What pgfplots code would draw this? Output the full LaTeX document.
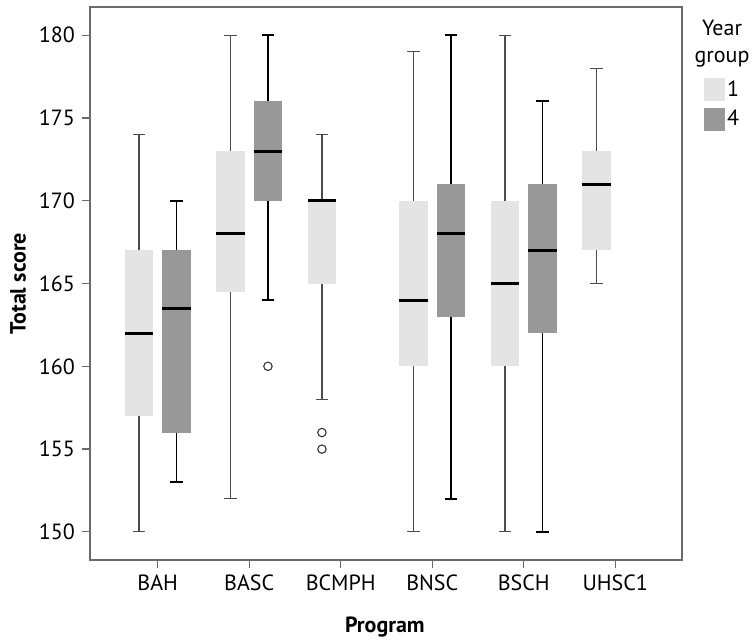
\documentclass[border=0pt]{standalone}
\usepackage{fontspec}
\setmainfont{PT Sans}
\usepackage{pgfplots}
\pgfplotsset{compat=1.18}

\definecolor{yearone}{HTML}{E4E4E4}
\definecolor{yearfour}{HTML}{989898}
\definecolor{frame}{HTML}{6A6A6A}

\pgfplotsset{
  whiskone/.style={draw=black!70, line width=0.6pt, forget plot},
  whiskfour/.style={draw=black, line width=0.9pt, forget plot},
  outlier/.style={only marks, mark=o, mark size=2.1pt,
    mark options={draw=black!80, line width=0.55pt}, forget plot},
}

% box: centre, lower whisker, lower quartile, median, upper quartile, upper whisker, fill, whisker style
\newcommand{\ybox}[8]{%
  \pgfmathsetmacro{\bl}{#1-0.155}\pgfmathsetmacro{\br}{#1+0.155}%
  \pgfmathsetmacro{\cl}{#1-0.0675}\pgfmathsetmacro{\cright}{#1+0.0675}%
  \addplot[fill=#7, draw=none, forget plot]
    coordinates {(\bl,#3) (\br,#3) (\br,#5) (\bl,#5)} -- cycle;
  \addplot[#8] coordinates {(#1,#5) (#1,#6)};
  \addplot[#8] coordinates {(\cl,#6) (\cright,#6)};
  \addplot[#8] coordinates {(#1,#3) (#1,#2)};
  \addplot[#8] coordinates {(\cl,#2) (\cright,#2)};
  \addplot[draw=black, line width=1.5pt, forget plot]
    coordinates {(\bl,#4) (\br,#4)};
}

\begin{document}
\begin{tikzpicture}
\begin{axis}[
  scale only axis, width=296pt, height=276.5pt,
  xmin=-0.74, xmax=5.73, ymin=148.3, ymax=181.7,
  clip=false,
  xtick={0,1,2,3,4,5},
  xticklabels={BAH,BASC,BCMPH,BNSC,BSCH,UHSC1},
  ytick={150,155,160,165,170,175,180},
  tick align=outside, major tick length=4pt,
  xtick pos=bottom, ytick pos=left,
  axis line style={frame, line width=0.6pt},
  tick style={frame, line width=0.6pt},
  tick label style={font=\fontsize{11}{13}\selectfont},
  /pgf/number format/assume math mode=true,
  xlabel={\textbf{Program}}, ylabel={\textbf{Total score}},
  label style={font=\fontsize{11}{13}\selectfont},
  xlabel style={at={(axis description cs:0.498,-0.121)}, anchor=center},
  ylabel style={at={(axis description cs:-0.1216,0.5)}, anchor=center},
  legend style={at={(axis description cs:1.037,0.8716)}, anchor=north west,
    draw=none, fill=none, inner sep=0pt, row sep=3.5pt,
    font=\fontsize{11}{13}\selectfont,
    nodes={inner sep=1pt}},
  legend cell align=left,
]
% BAH
\ybox{-0.205}{150}{157}{162}{167}{174}{yearone}{whiskone}
\ybox{0.205}{153}{156}{163.5}{167}{170}{yearfour}{whiskfour}
% BASC
\ybox{0.795}{152}{164.5}{168}{173}{180}{yearone}{whiskone}
\ybox{1.205}{164}{170}{173}{176}{180}{yearfour}{whiskfour}
\addplot[outlier] coordinates {(1.205,160)};
% BCMPH
\ybox{1.795}{158}{165}{170}{170}{174}{yearone}{whiskone}
\addplot[outlier] coordinates {(1.795,156) (1.795,155)};
% BNSC
\ybox{2.795}{150}{160}{164}{170}{179}{yearone}{whiskone}
\ybox{3.205}{152}{163}{168}{171}{180}{yearfour}{whiskfour}
% BSCH
\ybox{3.795}{150}{160}{165}{170}{180}{yearone}{whiskone}
\ybox{4.205}{150}{162}{167}{171}{176}{yearfour}{whiskfour}
% UHSC1
\ybox{4.795}{165}{167}{171}{173}{178}{yearone}{whiskone}

\addlegendimage{legend image code/.code={\fill[yearone] (0pt,-5.5pt) rectangle (10pt,5.5pt);}}
\addlegendentry{1}
\addlegendimage{legend image code/.code={\fill[yearfour] (0pt,-5.5pt) rectangle (10pt,5.5pt);}}
\addlegendentry{4}

\node[align=center, font=\fontsize{11}{13.5}\selectfont, anchor=center]
  at (axis description cs:1.0676,0.934) {Year\\group};

\coordinate (bbsw) at (axis description cs:-0.152,-0.1465);
\coordinate (bbne) at (axis description cs:1.1233,1.0127);
\end{axis}
\pgfresetboundingbox
\useasboundingbox (bbsw) rectangle (bbne);
\end{tikzpicture}
\end{document}
